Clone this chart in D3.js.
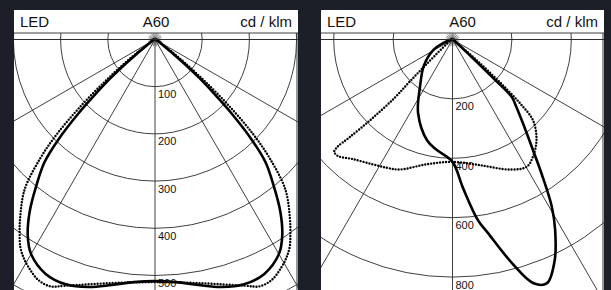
<!DOCTYPE html>
<html>
<head>
<meta charset="utf-8">
<script src="https://cdn.jsdelivr.net/npm/d3@7"></script>
<style>
  body { margin: 0; background: #1c1f27; }
  svg { display: block; }
  text { font-family: "Liberation Sans", Arial, sans-serif; fill: #111; }
</style>
</head>
<body>
<script>
// header texts
var headLeft = "LED";
var headMid = "A60";
var headRight = "cd / klm";

// ring values (cd/klm) and their labels
var leftRings = [100, 200, 300, 400, 500, 600];
var leftLabels = [100, 200, 300, 400, 500];
var rightRings = [200, 400, 600, 800, 1000];
var rightLabels = [200, 400, 600, 800];
var spokes = [-90, -60, -30, 0, 30, 60, 90];

// left diagram, symmetric: gamma (deg) and intensity for one half
var leftSolidAngles = [0, 5, 10, 15, 20, 25, 30, 33, 36, 39, 42, 44, 46, 47.5, 49, 50.5, 52, 55, 60, 70, 90];
var leftSolid = [512, 516, 528, 543, 552, 548, 525, 495, 452, 400, 350, 295, 225, 170, 125, 80, 45, 20, 10, 5, 3];
var leftDotAngles = [0, 10, 20, 23, 26, 29, 31, 33, 35, 37, 41, 44, 46, 48, 50, 52, 54, 57, 60, 70, 90];
var leftDotted = [514, 524, 555, 568, 566, 552, 540, 524, 500, 475, 421, 350, 290, 215, 140, 80, 40, 15, 8, 4, 3];

// right diagram, asymmetric: points in drawing order (gamma, intensity)
var rightSolidAngles = [-90, -80, -70, -61, -48, -34.4, -25, -14.2, -8, 0, 4, 8, 10.4, 14.9, 18.4, 21.2, 24.8, 28.3, 30.7, 33.5, 36, 40, 44, 45.9, 46.5, 47, 48, 50, 55, 70, 90];
var rightSolid = [3, 8, 30, 75, 129, 194, 274, 350, 376, 412, 500, 614, 663, 779, 865, 880, 820, 729, 655, 545, 462, 370, 305, 278, 200, 130, 60, 20, 8, 4, 3];
var rightDotAngles = [-90, -60, -50, -46.5, -45.5, -44.8, -45.5, -46.5, -47, -46.5, -44.5, -40, -33, -27, -22, -11.7, 0, 12.3, 23.9, 30.2, 34.4, 40, 44.9, 46.5, 47.5, 48.5, 49.5, 51, 55, 70, 90];
var rightDotted = [3, 10, 40, 120, 200, 277, 380, 480, 530, 549, 550, 525, 500, 485, 472, 429, 412, 433, 479, 496, 479, 440, 384, 320, 250, 170, 100, 40, 12, 5, 3];

var width = 611, height = 290;
var svg = d3.select("body").append("svg")
    .attr("width", width)
    .attr("height", height);

var panels = [
  { x0: 14, x1: 298, cx: 155, max: 500, rmax: 236, rings: leftRings, labels: leftLabels,
    curves: [
      { a: leftSolidAngles, v: leftSolid, mirror: true, dotted: false },
      { a: leftDotAngles, v: leftDotted, mirror: true, dotted: true }
    ] },
  { x0: 321, x1: 604, cx: 452.5, max: 800, rmax: 237.6, rings: rightRings, labels: rightLabels,
    curves: [
      { a: rightSolidAngles, v: rightSolid, mirror: false, dotted: false },
      { a: rightDotAngles, v: rightDotted, mirror: false, dotted: true }
    ] }
];

var boxTop = 10, lineY = 33, cy = 39.5;

panels.forEach(function(p, i) {
  var g = svg.append("g");
  var r = d3.scaleLinear().domain([0, p.max]).range([0, p.rmax]);

  g.append("rect")
    .attr("x", p.x0).attr("y", boxTop)
    .attr("width", p.x1 - p.x0).attr("height", height - boxTop)
    .attr("fill", "#fff");

  svg.append("clipPath").attr("id", "clip" + i)
    .append("rect")
    .attr("x", p.x0).attr("y", lineY)
    .attr("width", p.x1 - p.x0).attr("height", height - lineY);

  var plot = g.append("g").attr("clip-path", "url(#clip" + i + ")");
  var c = plot.append("g").attr("transform", "translate(" + p.cx + "," + cy + ")");

  // rings
  c.selectAll("circle.ring")
    .data(p.rings)
    .enter()
    .append("circle")
    .attr("class", "ring")
    .attr("r", function(d) { return r(d); })
    .attr("fill", "none")
    .attr("stroke", "#2a2a2a")
    .attr("stroke-width", 0.9);

  // spokes
  c.selectAll("line.spoke")
    .data(spokes)
    .enter()
    .append("line")
    .attr("x1", 0).attr("y1", 0)
    .attr("x2", function(d) { return 600 * Math.sin(d * Math.PI / 180); })
    .attr("y2", function(d) { return 600 * Math.cos(d * Math.PI / 180); })
    .attr("stroke", "#2a2a2a")
    .attr("stroke-width", 0.9);

  // little fan at the lamp
  c.selectAll("line.fan")
    .data(d3.range(0, 360, 15))
    .enter()
    .append("line")
    .attr("x1", 0).attr("y1", 0)
    .attr("x2", function(d) { return 7 * Math.sin(d * Math.PI / 180); })
    .attr("y2", function(d) { return 7 * Math.cos(d * Math.PI / 180); })
    .attr("stroke", "#444")
    .attr("stroke-width", 0.6);

  // ring labels
  c.selectAll("text.lab")
    .data(p.labels)
    .enter()
    .append("text")
    .attr("x", 3)
    .attr("y", function(d) { return r(d) + 11.5; })
    .attr("font-size", 11)
    .text(function(d) { return d; });

  // curves
  var line = d3.lineRadial()
    .angle(function(d) { return Math.PI - d[0] * Math.PI / 180; })
    .radius(function(d) { return r(d[1]); })
    .curve(d3.curveCatmullRom.alpha(0.5));

  p.curves.forEach(function(cv) {
    var pts = cv.a.map(function(a, k) { return [a, cv.v[k]]; });
    if (cv.mirror) {
      var back = pts.slice(1).map(function(d) { return [-d[0], d[1]]; }).reverse();
      pts = back.concat(pts);
    }
    c.append("path")
      .attr("d", line(pts))
      .attr("fill", "none")
      .attr("stroke", "#000")
      .attr("stroke-width", cv.dotted ? 2.4 : 2.6)
      .attr("stroke-linecap", "round")
      .attr("stroke-linejoin", "round")
      .attr("stroke-dasharray", cv.dotted ? "0,3" : null);
  });

  // header rules
  g.append("line")
    .attr("x1", p.x0).attr("x2", p.x1)
    .attr("y1", lineY).attr("y2", lineY)
    .attr("stroke", "#2a2a2a").attr("stroke-width", 0.9);
  g.append("line")
    .attr("x1", p.x0).attr("x2", p.x1)
    .attr("y1", cy).attr("y2", cy)
    .attr("stroke", "#2a2a2a").attr("stroke-width", 0.9);
  g.append("line")
    .attr("x1", p.x1 - 1).attr("x2", p.x1 - 1)
    .attr("y1", lineY).attr("y2", height)
    .attr("stroke", "#333").attr("stroke-width", 1);

  // header text
  g.append("text").attr("x", p.x0 + 6).attr("y", 26.7)
    .attr("font-size", 15).text(headLeft);
  g.append("text").attr("x", (p.x0 + p.x1) / 2).attr("y", 26.7)
    .attr("font-size", 15).attr("text-anchor", "middle").text(headMid);
  g.append("text").attr("x", p.x1 - 6).attr("y", 26.7)
    .attr("font-size", 15).attr("text-anchor", "end").text(headRight);
});
</script>
</body>
</html>
